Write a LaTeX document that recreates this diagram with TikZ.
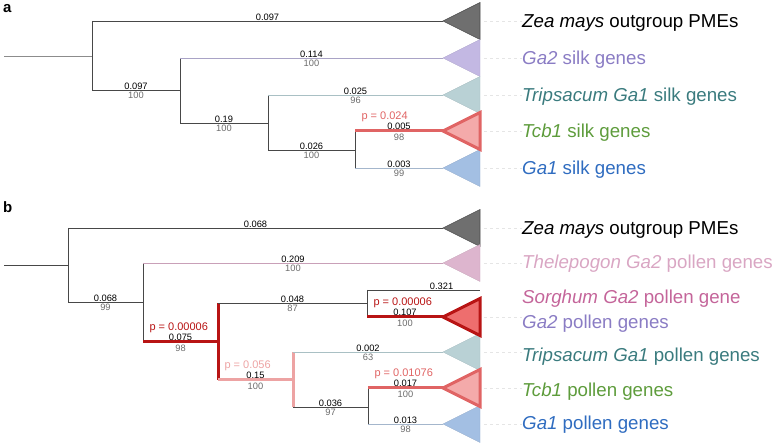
\documentclass[tikz,border=0pt]{standalone}
\usepackage{fontspec}
\setmainfont{Liberation Sans}
\usepackage{tikz}

\definecolor{zeaF}{HTML}{6F6F6F}
\definecolor{gatwoF}{HTML}{C3B8E3}
\definecolor{gatwoT}{HTML}{8A7CC4}
\definecolor{gatwoL}{HTML}{A9A3C6}
\definecolor{tripF}{HTML}{B9D1D5}
\definecolor{tripT}{HTML}{3A7B7E}
\definecolor{tripL}{HTML}{A9C0C4}
\definecolor{tcbF}{HTML}{F4AAAA}
\definecolor{tcbR}{HTML}{E06464}
\definecolor{tcbT}{HTML}{5E9C3C}
\definecolor{gaoneF}{HTML}{A3BFE3}
\definecolor{gaoneT}{HTML}{2F6CC0}
\definecolor{gaoneL}{HTML}{A4B6CC}
\definecolor{thelF}{HTML}{DDB5CE}
\definecolor{thelT}{HTML}{D9A6C3}
\definecolor{thelL}{HTML}{C9A0B8}
\definecolor{sorT}{HTML}{C4659A}
\definecolor{dkred}{HTML}{B81414}
\definecolor{gatwoPF}{HTML}{EE6E6E}
\definecolor{salmon}{HTML}{EDA3A3}

\tikzset{
  br/.style={line width=0.9pt, draw=black!72},
  hot/.style={line width=3pt},
  len/.style={above, inner sep=0.3pt, font=\fontsize{9.3}{10}\selectfont},
  boot/.style={below, inner sep=0pt, yshift=-2pt, text=black!58, font=\fontsize{9.3}{10}\selectfont},
  pval/.style={pos=0, anchor=base west, inner sep=0pt, xshift=5pt, yshift=11.5pt, font=\fontsize{11}{12}\selectfont},
  tip/.style={anchor=base west, inner sep=0pt, yshift=-6.5pt, font=\fontsize{18.7}{20}\selectfont},
  lead/.style={dash pattern=on 3pt off 3pt, draw=black!10, line width=0.6pt},
  panel/.style={anchor=base west, inner sep=0pt, font=\bfseries\fontsize{15}{15}\selectfont},
  zea/.style={fill=zeaF, draw=black!70, line width=0.6pt},
  gatwo/.style={fill=gatwoF, draw=gatwoF!90!black, line width=0.4pt},
  trip/.style={fill=tripF, draw=tripF!90!black, line width=0.4pt},
  gaone/.style={fill=gaoneF, draw=gaoneF!90!black, line width=0.4pt},
  thel/.style={fill=thelF, draw=thelF!90!black, line width=0.4pt},
  tcb/.style={fill=tcbF, draw=tcbR, line width=3pt},
  gatwop/.style={fill=gatwoPF, draw=dkred, line width=3pt},
}

\begin{document}
\begin{tikzpicture}[x=1pt,y=-1pt]
\useasboundingbox (0,0) rectangle (777,446);

\node[panel] (pa) at (3,13) {a};
\node[panel] (pb) at (3,213) {b};

\coordinate (aR) at (4,56);
\coordinate (a1) at (92,56);
\coordinate (a2) at (180,90);
\coordinate (a3) at (268,123);
\coordinate (a4) at (355,150);
\coordinate (aZea) at (443,21);
\coordinate (aGa2) at (443,58);
\coordinate (aTrip) at (443,95);
\coordinate (aTcb) at (443,131);
\coordinate (aGa1) at (443,168);

\coordinate (bR) at (4,265);
\coordinate (b1) at (68,265);
\coordinate (b2) at (143,302);
\coordinate (b3) at (218,342);
\coordinate (b4) at (367,303);
\coordinate (b5) at (293,380);
\coordinate (b6) at (368,407);
\coordinate (bZea) at (443,228);
\coordinate (bThel) at (443,263);
\coordinate (bSor) at (480,290);
\coordinate (bGa2) at (443,317);
\coordinate (bTrip) at (443,352);
\coordinate (bTcb) at (443,388);
\coordinate (bGa1) at (443,424);

\foreach \t/\s in {aZea/zea, aGa2/gatwo, aTrip/trip, aGa1/gaone, aTcb/tcb,
                   bZea/zea, bThel/thel, bTrip/trip, bGa1/gaone, bTcb/tcb, bGa2/gatwop}
  \filldraw[\s] (\t) -- ++(37,-18.5) -- ++(0,37) -- cycle;

\draw[br, draw=black!45] (aR) -- (a1);
\draw[br] (a1 |- aZea) -- (a1 |- a2);
\draw[br] (a1 |- aZea) -- node[len]{0.097} (aZea);
\draw[br] (a1 |- a2) -- node[len]{0.097} node[boot]{100} (a2);
\draw[br] (a2 |- aGa2) -- (a2 |- a3);
\draw[br, draw=gatwoL] (a2 |- aGa2) -- node[len]{0.114} node[boot]{100} (aGa2);
\draw[br] (a2 |- a3) -- node[len]{0.19} node[boot]{100} (a3);
\draw[br] (a3 |- aTrip) -- (a3 |- a4);
\draw[br, draw=tripL] (a3 |- aTrip) -- node[len]{0.025} node[boot]{96} (aTrip);
\draw[br] (a3 |- a4) -- node[len]{0.026} node[boot]{100} (a4);
\draw[br] (a4 |- aTcb) -- (a4 |- aGa1);
\draw[br, hot, draw=tcbR] (a4 |- aTcb) -- node[len]{0.005} node[boot]{98} node[pval, text=tcbR]{p = 0.024} (aTcb);
\draw[br, draw=gaoneL] (a4 |- aGa1) -- node[len]{0.003} node[boot]{99} (aGa1);

\draw[br] (bR) -- (b1);
\draw[br] (b1 |- bZea) -- (b1 |- b2);
\draw[br] (b1 |- bZea) -- node[len]{0.068} (bZea);
\draw[br] (b1 |- b2) -- node[len]{0.068} node[boot]{99} (b2);
\draw[br] (b2 |- bThel) -- (b2 |- b3);
\draw[br, draw=thelL] (b2 |- bThel) -- node[len]{0.209} node[boot]{100} (bThel);
\draw[br, hot, draw=dkred] (b2 |- b3) -- node[len]{0.075} node[boot]{98} node[pval, text=dkred]{p = 0.00006} (b3);
\draw[br, hot, draw=dkred] (b3 |- b4) -- (b3 |- b5);
\draw[br] (b3 |- b4) -- node[len]{0.048} node[boot]{87} (b4);
\draw[br] (b4 |- bSor) -- (b4 |- bGa2);
\draw[br] (b4 |- bSor) -- node[len, pos=0.66]{0.321} (bSor);
\draw[br, hot, draw=dkred] (b4 |- bGa2) -- node[len]{0.107} node[boot]{100} node[pval, text=dkred]{p = 0.00006} (bGa2);
\draw[br, hot, draw=salmon] (b3 |- b5) -- node[len]{0.15} node[boot]{100} node[pval, text=salmon]{p = 0.056} (b5);
\draw[br, hot, draw=salmon] (b5 |- bTrip) -- (b5 |- b6);
\draw[br, draw=tripL] (b5 |- bTrip) -- node[len]{0.002} node[boot]{63} (bTrip);
\draw[br] (b5 |- b6) -- node[len]{0.036} node[boot]{97} (b6);
\draw[br] (b6 |- bTcb) -- (b6 |- bGa1);
\draw[br, hot, draw=tcbR] (b6 |- bTcb) -- node[len]{0.017} node[boot]{100} node[pval, text=tcbR]{p = 0.01076} (bTcb);
\draw[br, draw=gaoneL] (b6 |- bGa1) -- node[len]{0.013} node[boot]{98} (bGa1);

\node[tip] (laZea) at (522,21) {\textit{Zea mays} outgroup PMEs};
\node[tip, text=gatwoT] (laGa2) at (522,58) {\textit{Ga2} silk genes};
\node[tip, text=tripT] (laTrip) at (522,95) {\textit{Tripsacum Ga1} silk genes};
\node[tip, text=tcbT] (laTcb) at (522,131) {\textit{Tcb1} silk genes};
\node[tip, text=gaoneT] (laGa1) at (522,168) {\textit{Ga1} silk genes};

\node[tip] (lbZea) at (522,228) {\textit{Zea mays} outgroup PMEs};
\node[tip, text=thelT] (lbThel) at (522,262) {\textit{Thelepogon Ga2} pollen genes};
\node[tip, text=sorT] (lbSor) at (522,297) {\textit{Sorghum Ga2} pollen gene};
\node[tip, text=gatwoT] (lbGa2) at (522,322) {\textit{Ga2} pollen genes};
\node[tip, text=tripT] (lbTrip) at (522,355) {\textit{Tripsacum Ga1} pollen genes};
\node[tip, text=tcbT] (lbTcb) at (522,390) {\textit{Tcb1} pollen genes};
\node[tip, text=gaoneT] (lbGa1) at (522,423) {\textit{Ga1} pollen genes};

\foreach \t in {aZea, aGa2, aTrip, aTcb, aGa1, bZea, bThel, bGa2, bTrip, bTcb, bGa1}
  \draw[lead] ([xshift=41pt]\t) -- (\t -| l\t.west);
\end{tikzpicture}
\end{document}
